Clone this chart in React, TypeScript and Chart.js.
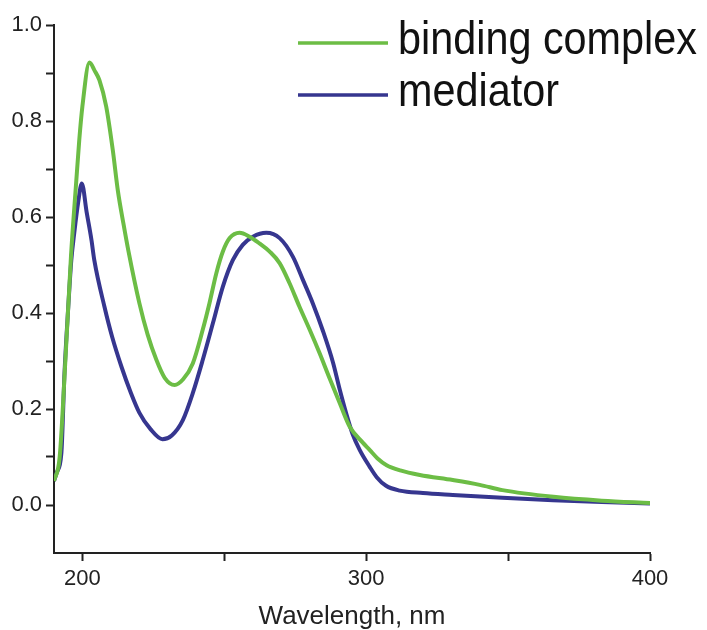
import React, { useEffect, useRef } from 'react';
import { Chart, registerables } from 'chart.js';

Chart.register(...registerables);

const seriesNames = ['binding complex', 'mediator'];
const seriesColors = ['#6cbd45', '#36368f'];

const bindingWavelength = [190, 192, 194, 196, 197.8, 198.9, 200, 202.5, 204.3, 206, 208.4, 210.7, 212.5, 214.5, 216.2, 220.1, 223, 226.1, 229, 232.5, 235.5, 238.9, 242.4, 244.8, 247.2, 249.5, 251.9, 255.4, 258.9, 262.4, 266, 269.5, 273, 276.5, 280.1, 283.6, 287.1, 290.7, 294.2, 298.8, 301.2, 304, 307.2, 312, 318.9, 330.5, 340, 348, 366, 383, 400];
const bindingAbs = [0.05, 0.1, 0.3, 0.52, 0.671, 0.76, 0.83, 0.922, 0.905, 0.885, 0.83, 0.74, 0.655, 0.585, 0.53, 0.42, 0.355, 0.302, 0.265, 0.25, 0.262, 0.295, 0.365, 0.421, 0.483, 0.528, 0.556, 0.567, 0.559, 0.545, 0.528, 0.504, 0.462, 0.413, 0.365, 0.316, 0.264, 0.212, 0.163, 0.13, 0.115, 0.097, 0.083, 0.072, 0.0625, 0.052, 0.042, 0.031, 0.017, 0.009, 0.004];

const mediatorWavelength = [190, 191, 192.6, 193.7, 195, 196.1, 197.2, 198.5, 199.8, 201.5, 203.2, 204.2, 207.8, 210.5, 213.8, 217, 220.1, 224, 228.2, 231.5, 235.4, 238.9, 242.4, 246, 249.5, 253, 256.5, 260.1, 264.8, 269.5, 274.2, 277.7, 281.2, 284.8, 288.3, 290.7, 293, 295.2, 297.7, 301.2, 303.7, 307, 311.8, 320, 330.5, 348, 365.8, 383, 400];
const mediatorAbs = [0.05, 0.068, 0.108, 0.275, 0.41, 0.51, 0.57, 0.63, 0.67, 0.61, 0.552, 0.51, 0.4125, 0.35, 0.2875, 0.235, 0.192, 0.158, 0.137, 0.145, 0.177, 0.233, 0.302, 0.379, 0.455, 0.51, 0.542, 0.559, 0.567, 0.556, 0.517, 0.469, 0.42, 0.362, 0.297, 0.24, 0.19, 0.148, 0.115, 0.08, 0.058, 0.04, 0.03, 0.025, 0.021, 0.015, 0.01, 0.006, 0.003];

const xTickValues = [200, 250, 300, 350, 400];
const xTickLabels = ['200', '', '300', '', '400'];
const yTickValues = [0, 0.1, 0.2, 0.3, 0.4, 0.5, 0.6, 0.7, 0.8, 0.9, 1.0];
const yTickLabels = ['0.0', '', '0.2', '', '0.4', '', '0.6', '', '0.8', '', '1.0'];

const FONT = '"Liberation Sans", Arial, Helvetica, sans-serif';

const legendPlugin = {
  id: 'insideLegend',
  afterDraw(chart: any) {
    const ctx = chart.ctx;
    const top = chart.chartArea.top;
    chart.data.datasets.forEach((ds: any, i: number) => {
      const y = top + 18 + i * 52;
      ctx.save();
      ctx.strokeStyle = ds.borderColor;
      ctx.lineWidth = 3.5;
      ctx.beginPath();
      ctx.moveTo(298, y);
      ctx.lineTo(388, y);
      ctx.stroke();
      ctx.translate(398, y + 11);
      ctx.scale(0.88, 1);
      ctx.font = '47px ' + FONT;
      ctx.fillStyle = '#111';
      ctx.textBaseline = 'alphabetic';
      ctx.textAlign = 'left';
      ctx.fillText(ds.label, 0, 0);
      ctx.restore();
    });
  },
};

export default function App() {
  const canvasRef = useRef<HTMLCanvasElement | null>(null);

  useEffect(() => {
    if (!canvasRef.current) return;
    const toPoints = (xs: number[], ys: number[]) => xs.map((x, i) => ({ x, y: ys[i] }));
    const chart = new Chart(canvasRef.current, {
      type: 'line',
      data: {
        datasets: [
          {
            label: seriesNames[0],
            data: toPoints(bindingWavelength, bindingAbs),
            borderColor: seriesColors[0],
            borderWidth: 4,
            pointRadius: 0,
            cubicInterpolationMode: 'monotone',
            borderJoinStyle: 'round',
            fill: false,
          },
          {
            label: seriesNames[1],
            data: toPoints(mediatorWavelength, mediatorAbs),
            borderColor: seriesColors[1],
            borderWidth: 4,
            pointRadius: 0,
            cubicInterpolationMode: 'monotone',
            borderJoinStyle: 'round',
            fill: false,
          },
        ],
      },
      options: {
        animation: false,
        responsive: true,
        maintainAspectRatio: false,
        layout: { padding: { top: 25, right: 57, left: 0, bottom: 0 } },
        plugins: {
          legend: { display: false },
          tooltip: { enabled: false },
          title: { display: false },
        },
        scales: {
          x: {
            type: 'linear',
            min: 190,
            max: 400,
            afterBuildTicks: (s: any) => {
              s.ticks = xTickValues.map((v) => ({ value: v }));
            },
            afterFit: (s: any) => {
              s.height = 77;
            },
            ticks: {
              autoSkip: false,
              maxRotation: 0,
              padding: 5,
              color: '#222',
              font: { family: FONT, size: 22 },
              callback: (v: any) => {
                const idx = xTickValues.indexOf(Number(v));
                return idx >= 0 ? xTickLabels[idx] : '';
              },
            },
            grid: {
              display: true,
              drawOnChartArea: false,
              drawTicks: true,
              tickLength: 8,
              tickColor: '#222',
              tickWidth: 2,
            },
            border: { display: true, color: '#222', width: 2 },
            title: {
              display: true,
              text: 'Wavelength, nm',
              color: '#222',
              font: { family: FONT, size: 26, lineHeight: 1 },
              padding: 0,
            },
          },
          y: {
            type: 'linear',
            min: -0.1,
            max: 1.0,
            afterBuildTicks: (s: any) => {
              s.ticks = yTickValues.map((v) => ({ value: v }));
            },
            afterFit: (s: any) => {
              s.width = 54;
            },
            ticks: {
              autoSkip: false,
              padding: 4,
              color: '#222',
              font: { family: FONT, size: 22 },
              callback: (v: any) => {
                const idx = yTickValues.findIndex((t) => Math.abs(t - Number(v)) < 1e-6);
                return idx >= 0 ? yTickLabels[idx] : '';
              },
            },
            grid: {
              display: true,
              drawOnChartArea: false,
              drawTicks: true,
              tickLength: 8,
              tickColor: '#222',
              tickWidth: 2,
            },
            border: { display: true, color: '#222', width: 2 },
          },
        },
      },
      plugins: [legendPlugin],
    } as any);
    return () => chart.destroy();
  }, []);

  return (
    <div style={{ position: 'absolute', left: 0, top: 0, width: 707, height: 630, background: '#fff' }}>
      <canvas ref={canvasRef} />
    </div>
  );
}
